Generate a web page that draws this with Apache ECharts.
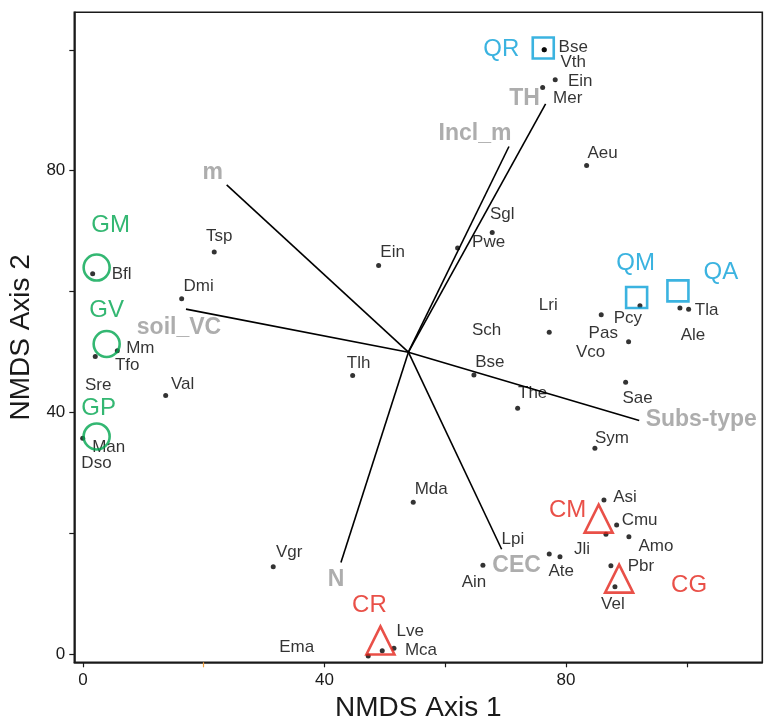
<!DOCTYPE html>
<html>
<head>
<meta charset="utf-8">
<script src="https://cdn.jsdelivr.net/npm/echarts@6/dist/echarts.min.js"></script>
<style>html,body{margin:0;padding:0;background:#fff;}#c{width:765px;height:719px;}</style>
</head>
<body>
<div id="c"></div>
<script>
// ---- data ----
const speciesNames = ['Bse','Vth','Ein','Mer','Aeu','Sgl','Pwe','Ein','Lri','Sch','Tlh','Bse','The','Tsp','Dmi','Bfl','Mm','Tfo','Sre','Val','Man','Dso','Pcy','Pas','Vco','Ale','Tla','Sae','Sym','Asi','Cmu','','Amo','Pbr','Vel','Mda','Lpi','Ain','Ate','Jli','Lve','Mca','','Ema','Vgr'];
const speciesX = [76.39,76.39,78.21,76.13,83.41,67.78,62.05,48.97,77.22,66.85,44.67,64.75,71.99,21.75,16.36,1.62,5.70,2.05,2.53,13.71,-0.03,2.25,92.24,85.83,90.36,98.86,100.30,89.87,84.78,86.28,88.38,86.61,90.41,87.43,88.10,54.70,71.20,66.24,77.22,79.00,49.57,51.51,47.25,35.40,31.52];
const speciesY = [100.0,100.0,95.03,93.76,80.84,69.75,67.17,64.29,53.26,53.60,46.08,46.19,40.68,66.51,58.77,62.91,50.17,49.22,44.40,42.76,35.71,31.60,57.62,56.13,51.66,57.24,57.07,44.98,34.06,25.50,21.36,19.82,19.42,14.62,11.14,25.12,19.00,14.69,16.56,16.11,0.55,0.94,-0.33,1.10,14.45];
// species whose dot is not visible (label only)
const labelOnly = ['Sch','Sre','Dso','Lpi','Ema'];

const groupNames = ['GM','GV','GP','QR','QM','QA','CM','CG','CR'];
const groupX = [2.28,3.94,2.28,76.23,91.69,98.53,85.40,88.79,49.27];
const groupY = [63.96,51.30,36.00,100.28,58.99,60.10,22.40,12.47,2.24];
const groupType = ['G','G','G','Q','Q','Q','C','C','C'];

const vectorOrigin = [53.9, 49.95];
const vectorNames = ['m','Incl_m','TH','soil_VC','Subs-type','N','CEC'];
const vectorX = [23.81,70.55,76.62,17.07,92.12,42.73,69.34];
const vectorY = [77.65,83.99,91.06,57.07,38.63,15.12,17.33];

const xTicks = [0,20,40,60,80,100];
const xTickLabels = [0,40,80];
const yTicks = [0,20,40,60,80,100];
const yTickLabels = [0,40,80];

// ---- styles (label offsets in px) ----
const speciesLabelOffset = [[29,-2],[29,13],[25,2],[25,11],[16,-12],[10,-18],[31,-6],[14,-13],[-1,-27],[0,0],[6,-12],[16,-13],[15,-15],[5,-16],[17,-13],[29,0],[23,-3],[32,9],[0,0],[17,-11],[26,9],[0,0],[-12,12],[2,18],[-38,10],[13,27],[18,1],[12,16],[17,-10],[21,-3],[23,-5],[0,0],[27,10],[30,1],[-2,18],[18,-13],[0,0],[-9,17],[12,17],[22,-7],[28,-19],[27,2],[0,0],[0,0],[16,-14]];
const groupLabelOffset = [[14,-42],[0,-34],[2,-28],[-42,1],[-1,-34],[43,-18],[-31,-8],[70,7],[-11,-35]];
const vectorLabelOffset = [[-14,-12],[-34,-13],[-21,-5],[-7,19],[62,-1],[-5,17],[15,16]];
const groupStyle = {
  G: {symbol:'circle', size:[26,26], color:'#00a54f'},
  Q: {symbol:'rect', size:[21,21], color:'#0aa0d8'},
  C: {symbol:'triangle', size:[28,28], color:'#e4241a'}
};
const FONT = 'Liberation Sans, Arial, sans-serif';

const chart = echarts.init(document.getElementById('c'), null, {renderer:'canvas'});

const speciesData = speciesNames.map((n,i)=>{
  const hidden = labelOnly.indexOf(n) >= 0;
  return {
    name: n,
    value: [speciesX[i], speciesY[i]],
    symbolSize: hidden ? 0.01 : 5,
    label: {offset: speciesLabelOffset[i]}
  };
});

const groupData = groupNames.map((n,i)=>{
  const st = groupStyle[groupType[i]];
  return {
    name: n,
    value: [groupX[i], groupY[i]],
    symbol: st.symbol,
    symbolSize: st.size,
    itemStyle: {color:'rgba(0,0,0,0)', borderColor: st.color, borderWidth: 2.6},
    label: {color: st.color, offset: groupLabelOffset[i]}
  };
});

const vectorSeries = vectorNames.map((n,i)=>({
  type:'line',
  data:[vectorOrigin, [vectorX[i], vectorY[i]]],
  symbol:'none',
  lineStyle:{color:'#000', width:1.6},
  silent:true, animation:false, z:2
}));

const vectorLabelData = vectorNames.map((n,i)=>({
  name:n, value:[vectorX[i], vectorY[i]],
  label:{offset: vectorLabelOffset[i]}
}));

const option = {
  animation:false,
  grid:{left:74.3, right:2.7, top:12.3, bottom:56.7, outerBoundsMode:'none', containLabel:false,
        show:true, borderColor:'#1a1a1a', borderWidth:1.6, backgroundColor:'#fff'},
  xAxis:[{
    type:'value', min:-1.42, max:112.5,
    splitLine:{show:false},
    axisLine:{show:true, onZero:false, lineStyle:{color:'#1a1a1a', width:1.6}},
    axisTick:{show:true, inside:false, length:5, customValues: xTicks.filter(v=>v!==20), lineStyle:{color:'#1a1a1a', width:1.2}},
    axisLabel:{customValues: xTickLabels, margin:10, fontSize:17, color:'#1a1a1a', fontFamily:FONT},
    name:'NMDS Axis 1', nameLocation:'middle', nameGap:28,
    nameTextStyle:{fontSize:28, color:'#1a1a1a', fontFamily:FONT}
  },{
    type:'value', min:-1.42, max:112.5, position:'bottom',
    splitLine:{show:false}, axisLine:{show:false, onZero:false},
    axisTick:{show:true, inside:false, length:5, customValues: xTicks.filter(v=>v===20), lineStyle:{color:'#f0a040', width:1.2}},
    axisLabel:{show:false}
  }],
  yAxis:{
    type:'value', min:-1.38, max:106.2,
    splitLine:{show:false},
    axisLine:{show:true, onZero:false, lineStyle:{color:'#1a1a1a', width:1.6}},
    axisTick:{show:true, inside:false, length:5, customValues: yTicks, lineStyle:{color:'#1a1a1a', width:1.2}},
    axisLabel:{customValues: yTickLabels, margin:9, fontSize:17, color:'#1a1a1a', fontFamily:FONT},
    name:'NMDS Axis 2', nameLocation:'middle', nameGap:34,
    nameTextStyle:{fontSize:28, color:'#1a1a1a', fontFamily:FONT}
  },
  series:[
    ...vectorSeries,
    {
      type:'scatter', data: vectorLabelData, symbolSize:0.01,
      itemStyle:{color:'rgba(0,0,0,0)'}, silent:true, z:3,
      label:{show:true, position:'inside', align:'center', verticalAlign:'middle', formatter:'{b}',
        fontSize:23, fontWeight:'bold', color:'#999999', fontFamily:FONT}
    },
    {
      type:'scatter', data: speciesData,
      itemStyle:{color:'#000'}, silent:true, z:4,
      label:{show:true, position:'inside', align:'center', verticalAlign:'middle', formatter:'{b}',
        fontSize:17, color:'#000', fontFamily:FONT}
    },
    {
      type:'scatter', data: groupData, silent:true, z:5,
      label:{show:true, position:'inside', align:'center', verticalAlign:'middle', formatter:'{b}',
        fontSize:24, fontFamily:FONT}
    }
  ]
};
chart.setOption(option);
</script>
</body>
</html>
